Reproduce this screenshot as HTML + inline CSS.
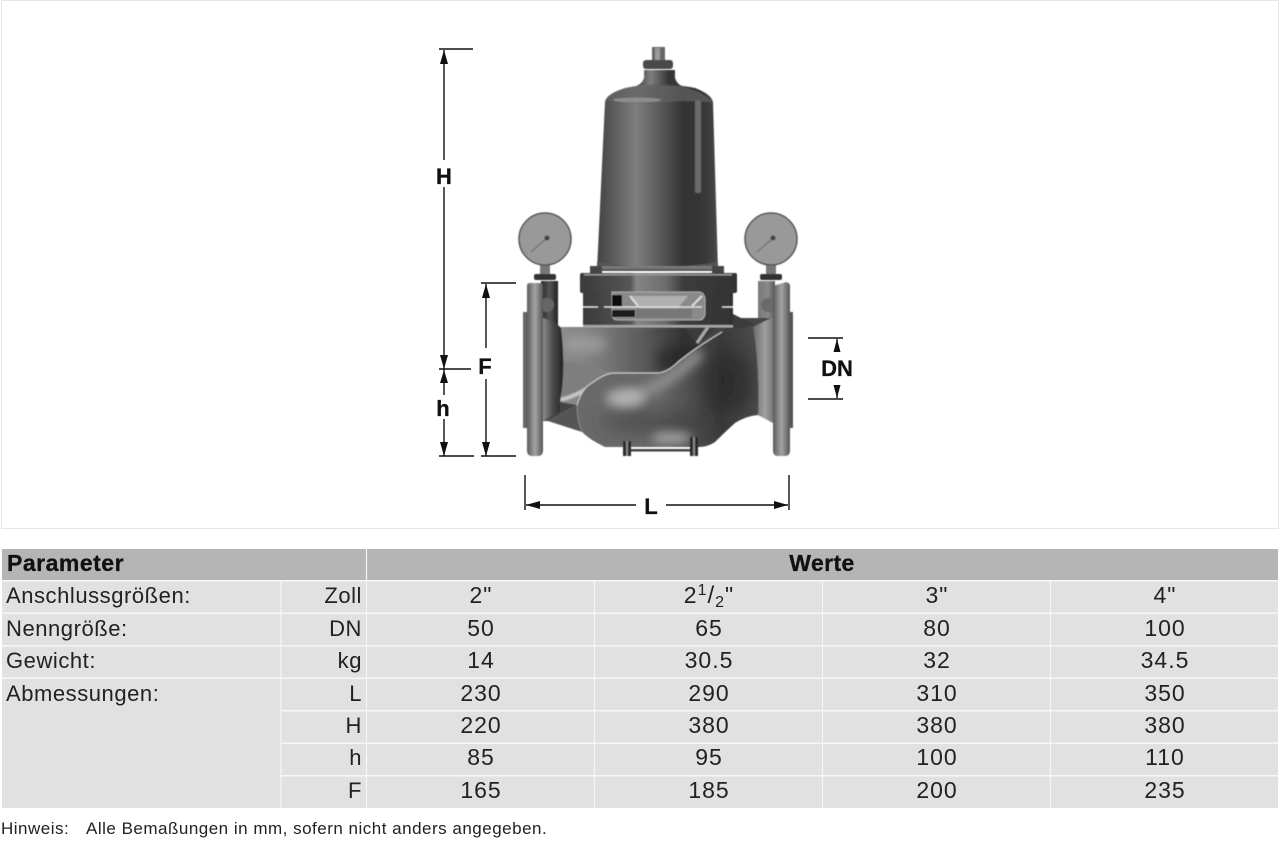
<!DOCTYPE html>
<html lang="de"><head><meta charset="utf-8"><title>Abmessungen</title>
<style>
html,body{margin:0;padding:0;background:#fff}
svg{display:block}
text{font-family:"Liberation Sans",sans-serif;fill:#222}
.b{font-weight:bold;fill:#111;stroke:#111;stroke-width:.3}
.t{font-size:22px;letter-spacing:.55px}
.n{font-size:23px;letter-spacing:1px}
.m{text-anchor:middle}
.e{text-anchor:end}
.d{stroke:#111;stroke-width:1.4;fill:none}
</style></head><body>
<svg width="1280" height="852" viewBox="0 0 1280 852" xmlns="http://www.w3.org/2000/svg">
<defs>
<linearGradient id="dome" x1="0" x2="1" y1="0" y2="0"><stop offset="0" stop-color="#444"/><stop offset=".12" stop-color="#585858"/><stop offset=".32" stop-color="#7e7e7e"/><stop offset=".5" stop-color="#5e5e5e"/><stop offset=".72" stop-color="#333"/><stop offset=".9" stop-color="#383838"/><stop offset="1" stop-color="#4a4a4a"/></linearGradient>
<linearGradient id="fl" x1="0" x2="1" y1="0" y2="0"><stop offset="0" stop-color="#5a5a5a"/><stop offset=".5" stop-color="#a5a5a5"/><stop offset="1" stop-color="#555"/></linearGradient>
<linearGradient id="pipeL" x1="0" x2="1" y1="0" y2="0"><stop offset="0" stop-color="#2a2a2a"/><stop offset=".5" stop-color="#555"/><stop offset="1" stop-color="#222"/></linearGradient>
<linearGradient id="pipeR" x1="0" x2="1" y1="0" y2="0"><stop offset="0" stop-color="#777"/><stop offset=".6" stop-color="#8a8a8a"/><stop offset="1" stop-color="#555"/></linearGradient>
<linearGradient id="hous" x1="0" x2="1" y1="0" y2="0"><stop offset="0" stop-color="#3a3a3a"/><stop offset=".32" stop-color="#555"/><stop offset=".36" stop-color="#858585"/><stop offset=".55" stop-color="#6c6c6c"/><stop offset=".66" stop-color="#3c3c3c"/><stop offset="1" stop-color="#333"/></linearGradient>
<linearGradient id="neckL" x1="0" x2="1" y1="0" y2="0"><stop offset="0" stop-color="#8a8a8a"/><stop offset=".5" stop-color="#4a4a4a"/><stop offset="1" stop-color="#222"/></linearGradient>
<linearGradient id="neckR" x1="0" x2="1" y1="0" y2="0"><stop offset="0" stop-color="#6a6a6a"/><stop offset=".6" stop-color="#a0a0a0"/><stop offset="1" stop-color="#777"/></linearGradient>
<linearGradient id="up" x1="0" x2="1" y1="0" y2="0"><stop offset="0" stop-color="#8e8e8e"/><stop offset=".3" stop-color="#7a7a7a"/><stop offset=".6" stop-color="#585858"/><stop offset=".85" stop-color="#333"/><stop offset="1" stop-color="#333"/></linearGradient>
<linearGradient id="lowg" x1="0" x2="1" y1="0" y2="0"><stop offset="0" stop-color="#6a6a6a"/><stop offset=".45" stop-color="#666"/><stop offset=".8" stop-color="#3a3a3a"/><stop offset="1" stop-color="#4c4c4c"/></linearGradient>
<filter id="s" x="-5%" y="-5%" width="110%" height="110%"><feGaussianBlur stdDeviation=".55"/></filter>
<filter id="b5" x="-100%" y="-100%" width="300%" height="300%"><feGaussianBlur stdDeviation="9"/></filter>
<filter id="b3" x="-100%" y="-100%" width="300%" height="300%"><feGaussianBlur stdDeviation="5"/></filter>
<clipPath id="lowc"><path d="M577 405Q582 388 592 383Q602 375 612 373L658 373Q668 372 678 362Q695 348 722 332L753 326L758 415Q746 416 735 423Q725 432 715 442Q708 447 698 447H605Q590 440 582 432Q577 420 577 405Z"/></clipPath>
<clipPath id="upc"><path d="M558 327H700V375H612Q590 382 577 405L560 402Z"/></clipPath>
</defs>

<rect x="0" y="0" width="1280" height="852" fill="#fff"/>
<rect x="1.500" y=".5" width="1277" height="528" fill="none" stroke="#e6e6e6"/>

<g filter="url(#s)">
<!-- top -->
<rect x="652" y="47" width="13" height="14" fill="#666"/><rect x="655" y="48" width="5" height="12" fill="#999"/>
<rect x="643" y="60" width="30" height="9" rx="3" fill="#4a4a4a"/>
<path d="M644 70H675V78Q677 84 682 86H636Q642 84 644 78Z" fill="url(#dome)"/>
<!-- bell -->
<path d="M605 102Q606 94 625 88Q640 85 658 84Q680 85 695 88Q711 94 713 102L718 270H597Z" fill="url(#dome)"/>
<path d="M606 100Q640 106 680 101L713 102Q700 90 680 86H636Q612 90 606 100Z" fill="#626262" opacity=".7"/>
<ellipse cx="637" cy="100" rx="24" ry="2.500" fill="#8e8e8e"/>
<rect x="695" y="100" width="6" height="93" rx="2" fill="#6a6a6a"/>
<path d="M597 262Q658 272 718 262V271H597Z" fill="#555"/>
<rect x="597" y="266" width="121" height="3" fill="#888" opacity=".7"/>
<!-- gauges -->
<rect x="540" y="264" width="10" height="10" fill="#777"/><rect x="534" y="274" width="22" height="6" rx="2" fill="#333"/>
<rect x="766" y="264" width="10" height="10" fill="#777"/><rect x="760" y="274" width="22" height="6" rx="2" fill="#333"/>
<circle cx="545" cy="239" r="26" fill="#999" stroke="#555" stroke-width="1.500"/>
<circle cx="771" cy="239" r="26" fill="#999" stroke="#555" stroke-width="1.500"/>
<path d="M531 252L547 238" stroke="#666" fill="none"/><path d="M757 252L773 238" stroke="#666" fill="none"/>
<circle cx="547" cy="238" r="2.500" fill="#444"/><circle cx="773" cy="238" r="2.500" fill="#444"/>
<!-- side pipes -->
<rect x="541" y="281" width="17" height="47" fill="url(#pipeL)"/>
<circle cx="547" cy="305" r="7" fill="#666"/>
<rect x="758" y="281" width="17" height="40" fill="url(#pipeR)"/>
<circle cx="768" cy="305" r="7" fill="#6a6a6a"/>
<!-- base of body -->
<path d="M543 320L558 327H720L733 318L773 318V422L758 415H600L577 405L548 421H543Z" fill="#444"/>
<g clip-path="url(#upc)">
<rect x="556" y="325" width="150" height="85" fill="url(#up)"/>
<path d="M562 398Q580 392 598 380L612 372L560 360Z" fill="#7e7e7e"/>
<ellipse cx="585" cy="344" rx="22" ry="10" fill="#a8a8a8" opacity=".6" filter="url(#b3)"/>
<path d="M560 400Q580 395 598 381" stroke="#c5c5c5" stroke-width="4" fill="none" filter="url(#s)"/>
<ellipse cx="680" cy="360" rx="24" ry="14" fill="#222" opacity=".6" filter="url(#b3)"/>
</g>
<!-- triangle lower left -->
<path d="M548 421L577 405L582 432Z" fill="#555"/>
<!-- lower body -->
<path d="M577 405Q582 388 592 383Q602 375 612 373L658 373Q668 372 678 362Q695 348 722 332L753 326L758 415Q746 416 735 423Q725 432 715 442Q708 447 698 447H605Q590 440 582 432Q577 420 577 405Z" fill="url(#lowg)"/>
<g clip-path="url(#lowc)">
<ellipse cx="728" cy="382" rx="26" ry="30" fill="#222" opacity=".55" filter="url(#b5)"/>
<ellipse cx="655" cy="422" rx="55" ry="7" fill="#333" opacity=".6" filter="url(#b5)"/>
<path d="M605 398Q650 402 700 352" stroke="#8e8e8e" stroke-width="12" fill="none" filter="url(#b3)"/>
<ellipse cx="627" cy="398" rx="18" ry="9" fill="#b8b8b8" opacity=".85" filter="url(#b3)"/>
<ellipse cx="672" cy="438" rx="20" ry="6" fill="#b4b4b4" opacity=".8" filter="url(#b3)"/>
</g>
<path d="M577 405Q582 388 592 383Q602 375 612 373L658 373Q668 372 678 362Q695 348 722 332" fill="none" stroke="#c5c5c5" stroke-width="1.200"/>
<path d="M577 405Q577 420 582 432" stroke="#888" fill="none"/>
<!-- right triangles and gusset -->
<path d="M733 314L755 325L722 331L733 325Z" fill="#3a3a3a"/>
<path d="M683 327H718L697 344Z" fill="#3a3a3a"/>
<path d="M708 327L697 343" stroke="#a8a8a8" stroke-width="3"/>
<!-- feet -->
<rect x="623" y="441" width="8" height="15" fill="#2c2c2c"/><rect x="626" y="441" width="2" height="15" fill="#888"/>
<rect x="690" y="437" width="8" height="19" fill="#2c2c2c"/><rect x="693" y="437" width="2" height="19" fill="#888"/>
<rect x="631" y="449" width="59" height="2.500" fill="#444"/>
<!-- necks -->
<path d="M543 318Q556 322 561 328Q566 370 560 402L560 412L543 421Z" fill="url(#neckL)"/>
<path d="M773 317L753 327Q760 370 758 415L773 423Z" fill="url(#neckR)"/>
<!-- flanges -->
<rect x="523" y="312" width="5" height="116" fill="#666"/>
<rect x="789" y="312" width="4" height="116" fill="#555"/>
<path d="M527 286Q527 283 530 283H540Q543 283 543 286V450Q543 456 538 456H532Q527 456 527 450Z" fill="url(#fl)"/>
<path d="M773 286L786 282Q790 283 790 286V450Q790 456 785 456H778Q773 456 773 450Z" fill="url(#fl)"/>
<!-- housing -->
<rect x="590" y="266" width="12" height="7" fill="#444"/><rect x="712" y="266" width="12" height="7" fill="#444"/>
<rect x="580" y="273" width="157" height="20" rx="2" fill="url(#hous)"/>
<rect x="584" y="274" width="148" height="1.500" fill="#999"/>
<rect x="583" y="292" width="150" height="33" fill="url(#hous)"/>
<rect x="583" y="325" width="150" height="2.500" fill="#a5a5a5"/>
<path d="M612 292H699Q704 292 705 299V314Q704 320 699 320H618Q612 320 612 314Z" fill="#8a8a8a" stroke="#bbb" stroke-width=".8"/>
<path d="M630 296H688L678 308H640Z" fill="#b0b0b0"/>
<path d="M636 309H692V318H636Z" fill="#777"/>
<rect x="612" y="295" width="10" height="12" fill="#111"/>
<rect x="612" y="310" width="23" height="7" fill="#1a1a1a"/>
<path d="M630 296L638 306M692 306L702 296" stroke="#ddd" stroke-width="2"/>
<path d="M583 307H598M604 307H702M722 307H733" stroke="#e6e6e6" stroke-width="1.200"/>
</g>

<!-- dimensions -->
<path class="d" d="M439 49H473M444 50V160M444 187V369M439 369H471M481 283H516M486 284V348M486 379V456M439 456H474M481 456H516"/>
<path class="d" d="M444 369V395M444 419V456M808 338H843M808 399H843M525 475V510M789 475V510M526 505H636M666 505H788M837 339V347M837 385V398"/>
<path fill="#111" d="M444 50l-4 14h8zM444 369l-4-14h8zM444 370l-4 13h8zM444 456l-4-14h8zM486 284l-4 14h8zM486 456l-4-14h8zM837 339l-3.500 13h7zM837 398l-3.500-13h7zM526 505l14-4v8zM788 505l-14-4v8z"/>
<text class="b m" x="444" y="184" font-size="22">H</text>
<text class="b m" x="485" y="374" font-size="22">F</text>
<text class="b m" x="443" y="416" font-size="22">h</text>
<text class="b m" x="837" y="376" font-size="22">DN</text>
<text class="b m" x="651" y="514" font-size="22">L</text>

<!-- table -->
<rect x="2" y="549" width="1276" height="259" fill="#e1e1e1"/>
<rect x="2" y="549" width="1276" height="31" fill="#b5b5b5"/>
<g stroke="#f6f6f6" fill="none">
<path stroke-width="1.500" d="M2 580.800H1278M2 613.300H1278M2 645.800H1278M2 678.300H1278M281 710.800H1278M281 743.200H1278M281 775.700H1278"/>
<path stroke-width="1.200" d="M366.500 549V808M281 581V808M594.500 581V808M822.500 581V808M1050.500 581V808"/>
</g>
<text class="b" x="7" y="571" font-size="23" letter-spacing=".5">Parameter</text>
<text class="b m" x="822" y="571" font-size="23" letter-spacing=".4">Werte</text>
<g class="t">
<text x="6" y="603">Anschlussgrößen:</text>
<text x="6" y="636">Nenngröße:</text>
<text x="6" y="668">Gewicht:</text>
<text x="6" y="701">Abmessungen:</text>
<g class="e">
<text x="362" y="603">Zoll</text><text x="362" y="636">DN</text><text x="362" y="668">kg</text><text x="362" y="701">L</text><text x="362" y="733">H</text><text x="362" y="765">h</text><text x="362" y="798">F</text>
</g>
</g>
<g class="n m">
<text x="481" y="603">2"</text><text x="709" y="603">2<tspan font-size="16" dy="-8">1</tspan><tspan font-size="24" dy="8">/</tspan><tspan font-size="16" dy="4">2</tspan><tspan dy="-4">"</tspan></text><text x="937" y="603">3"</text><text x="1165" y="603">4"</text>
<text x="481" y="636">50</text><text x="709" y="636">65</text><text x="937" y="636">80</text><text x="1165" y="636">100</text>
<text x="481" y="668">14</text><text x="709" y="668">30.5</text><text x="937" y="668">32</text><text x="1165" y="668">34.5</text>
<text x="481" y="701">230</text><text x="709" y="701">290</text><text x="937" y="701">310</text><text x="1165" y="701">350</text>
<text x="481" y="733">220</text><text x="709" y="733">380</text><text x="937" y="733">380</text><text x="1165" y="733">380</text>
<text x="481" y="765">85</text><text x="709" y="765">95</text><text x="937" y="765">100</text><text x="1165" y="765">110</text>
<text x="481" y="798">165</text><text x="709" y="798">185</text><text x="937" y="798">200</text><text x="1165" y="798">235</text>
</g>
<text x="1" y="834" font-size="17" letter-spacing=".5">Hinweis:</text>
<text x="86" y="834" font-size="17" letter-spacing=".5">Alle Bemaßungen in mm, sofern nicht anders angegeben.</text>
</svg>
</body></html>
